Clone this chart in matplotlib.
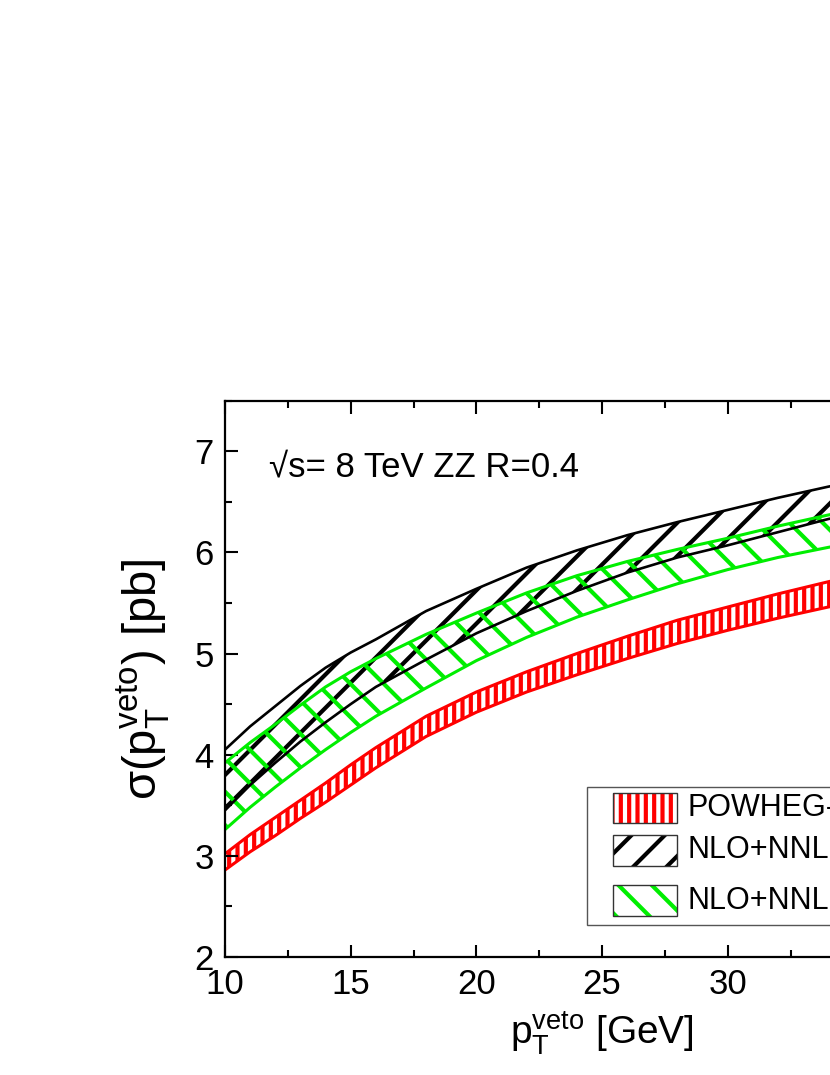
import numpy as np
import matplotlib
matplotlib.use('Agg')
import matplotlib.pyplot as plt
from matplotlib.patches import Rectangle
from matplotlib.ticker import MultipleLocator

plt.rcParams['font.family'] = ['Liberation Sans', 'DejaVu Sans']
plt.rcParams['mathtext.fontset'] = 'custom'
plt.rcParams['mathtext.rm'] = 'Liberation Sans'
plt.rcParams['mathtext.it'] = 'Liberation Sans'
plt.rcParams['hatch.linewidth'] = 3.0

# data
pt_veto = [10, 11, 12, 13, 14, 15, 16, 18, 20, 22, 24, 26, 28, 30, 32, 34, 36, 38, 40]

nnll_hi = [4.05, 4.28, 4.48, 4.68, 4.86, 5.01, 5.14, 5.42, 5.64, 5.85, 6.02, 6.17, 6.30, 6.42, 6.54, 6.65, 6.75, 6.85, 6.94]
nnll_lo = [3.45, 3.70, 3.92, 4.13, 4.32, 4.50, 4.67, 4.94, 5.20, 5.42, 5.62, 5.80, 5.95, 6.07, 6.20, 6.33, 6.43, 6.52, 6.60]

nnll2_hi = [3.92, 4.12, 4.30, 4.49, 4.67, 4.82, 4.95, 5.19, 5.40, 5.60, 5.77, 5.91, 6.03, 6.14, 6.26, 6.37, 6.47, 6.56, 6.64]
nnll2_lo = [3.26, 3.48, 3.68, 3.87, 4.05, 4.22, 4.38, 4.66, 4.93, 5.16, 5.36, 5.53, 5.69, 5.83, 5.95, 6.05, 6.14, 6.22, 6.29]

powheg_hi = [3.02, 3.21, 3.38, 3.55, 3.72, 3.90, 4.07, 4.38, 4.62, 4.82, 5.00, 5.17, 5.33, 5.46, 5.59, 5.71, 5.82, 5.92, 6.01]
powheg_lo = [2.86, 3.04, 3.20, 3.37, 3.53, 3.70, 3.87, 4.18, 4.42, 4.62, 4.79, 4.95, 5.10, 5.23, 5.35, 5.46, 5.56, 5.66, 5.75]

labels = ['POWHEG-BOX', 'NLO+NNLL', 'NLO+NNLL+gg']
colors = ['#ff0000', '#000000', '#00ee00']
hatches = ['||', '/', '\\']

W, H = 830, 1075
fig = plt.figure(figsize=(W / 100, H / 100), dpi=100)
ax = fig.add_axes([225 / W, 1 - 957 / H, 754 / W, 556.3 / H])

bands = [
    (nnll_lo, nnll_hi, colors[1], hatches[1], 1.9),
    (nnll2_lo, nnll2_hi, colors[2], hatches[2], 2.2),
    (powheg_lo, powheg_hi, colors[0], hatches[0], 2.2),
]
for lo, hi, c, h, lw in bands:
    ax.fill_between(pt_veto, lo, hi, facecolor='none', edgecolor=c, hatch=h, linewidth=0)
    ax.plot(pt_veto, lo, color=c, lw=lw)
    ax.plot(pt_veto, hi, color=c, lw=lw)

ax.set_xlim(10, 40)
ax.set_ylim(2, 7.5)
ax.xaxis.set_major_locator(MultipleLocator(5))
ax.xaxis.set_minor_locator(MultipleLocator(2.5))
ax.yaxis.set_major_locator(MultipleLocator(1))
ax.yaxis.set_minor_locator(MultipleLocator(0.5))
ax.tick_params(which='both', direction='in', top=True, right=True, width=1.5)
ax.tick_params(which='major', length=9, labelsize=25, pad=8)
ax.tick_params(which='minor', length=5)
for s in ax.spines.values():
    s.set_linewidth(1.6)

ax.set_xlabel(r'$\mathregular{p_T^{veto}}$ [GeV]', fontsize=28, labelpad=6)
ax.set_ylabel(r'σ($\mathregular{p_T^{veto}}$) [pb]', fontsize=34, labelpad=16)

ax.text(11.75, 6.75, '√s= 8 TeV ZZ R=0.4', fontsize=25, va='baseline')

# legend box, drawn in figure pixels
fig.patches.append(Rectangle((587 / W, 1 - 925 / H), 400 / W, 138 / H, transform=fig.transFigure,
                             facecolor='white', edgecolor='#555555', lw=1.0, zorder=5))
rows = [(793, 823), (835, 866), (885, 916)]
for (top, bot), lab, c, h in zip(rows, labels, colors, hatches):
    fig.patches.append(Rectangle((613 / W, 1 - bot / H), 64 / W, (bot - top) / H, transform=fig.transFigure,
                                 facecolor='none', edgecolor=c, hatch=h, lw=0, zorder=6))
    fig.patches.append(Rectangle((613 / W, 1 - bot / H), 64 / W, (bot - top) / H, transform=fig.transFigure,
                                 facecolor='none', edgecolor='#333333', lw=1.0, zorder=7))
    fig.text(687 / W, 1 - (top + bot) / 2 / H, lab, fontsize=22, va='center', zorder=8)

fig.savefig('out.png', dpi=100)
